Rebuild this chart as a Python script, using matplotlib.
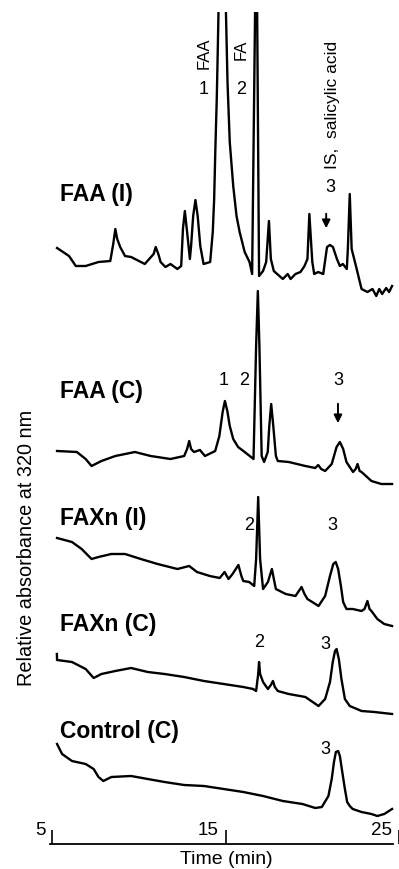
import matplotlib
matplotlib.use('Agg')
import matplotlib.pyplot as plt
from matplotlib.patches import Rectangle

plt.rcParams['font.family'] = ['Liberation Sans', 'DejaVu Sans']

# retention time (min) and relative absorbance (arbitrary units)
t_faa_i = [5.28, 5.97, 6.36, 6.93, 7.67, 8.35, 8.52, 8.64, 8.75, 8.92,
           9.20, 9.55, 10.34, 10.85, 10.97, 11.14, 11.25, 11.53, 11.82, 12.22,
           12.44, 12.54, 12.65, 12.78, 12.94, 13.01, 13.13, 13.26, 13.39, 13.54,
           13.73, 14.11, 14.26, 14.34, 14.41, 14.49, 14.55, 14.59, 14.65, 14.80,
           14.95, 15.02, 15.11, 15.24, 15.44, 15.63, 15.81, 16.10, 16.38, 16.53,
           16.70, 16.76, 16.82, 16.93, 17.16, 17.34, 17.50, 17.61, 17.78, 18.30,
           18.58, 18.75, 19.03, 19.32, 19.55, 19.72, 19.83, 20.00, 20.11, 20.34,
           20.63, 20.85, 21.02, 21.19, 21.42, 21.59, 21.76, 21.99, 22.05, 22.16,
           22.27, 22.56, 22.84, 23.18, 23.47, 23.69, 23.86, 24.03, 24.26, 24.43, 24.60]
s_faa_i = [21, 13, 3, 3, 7, 8, 25, 40, 30, 22,
           13, 12, 5, 15, 22, 14, 7, 2, 5, 0,
           3, 40, 58, 37, 10, 23, 53, 69, 53, 23,
           5, 7, 37, 70, 120, 170, 220, 257, 300, 330,
           300, 257, 187, 127, 83, 53, 37, 17, 7, -5,
           257, 320, 257, -7, -2, 7, 48, 10, -2, -10,
           -5, -10, -5, -3, 3, 10, 55, 7, -5, -3,
           -5, 22, 24, 22, 10, 3, 5, 0, 20, 75,
           20, 0, -20, -23, -20, -27, -20, -25, -19, -23, -17]

t_faa_c = [5.28, 6.42, 6.93, 7.27, 7.84, 8.64, 9.77, 10.68, 11.82, 12.61,
           12.78, 12.90, 13.01, 13.18, 13.52, 13.81, 14.40, 14.64, 14.83, 14.96,
           15.10, 15.24, 15.44, 15.72, 16.10, 16.61, 16.76, 16.86, 16.95, 17.08,
           17.22, 17.43, 17.52, 17.63, 17.75, 17.90, 18.01, 18.64, 19.60, 20.17,
           20.34, 20.51, 20.74, 21.12, 21.40, 21.59, 21.78, 21.97, 22.35, 22.50,
           22.61, 22.73, 22.84, 23.41, 23.98, 24.60]
s_faa_c = [8, 7, 0, -7, -2, 3, 7, 3, 0, 3,
           10, 18, 10, 7, 9, 3, 8, 23, 47, 58,
           48, 33, 20, 12, 7, 0, 113, 168, 113, 3,
           -3, 7, 33, 55, 33, 3, -2, -3, -7, -9,
           -6, -10, -12, -5, 12, 17, 10, -3, -13, -10,
           -5, -12, -13, -22, -25, -25]

t_faxn_i = [5.28, 6.14, 6.70, 7.27, 7.67, 8.41, 9.20, 10.11, 11.08, 12.22,
            12.90, 13.35, 14.09, 14.66, 14.94, 15.17, 15.40, 15.74, 15.91, 16.02,
            16.36, 16.65, 16.76, 16.88, 16.99, 17.16, 17.44, 17.67, 17.84, 17.90,
            18.47, 19.03, 19.38, 19.55, 19.72, 20.36, 20.74, 21.02, 21.21, 21.35,
            21.49, 21.65, 21.78, 21.97, 22.33, 22.84, 23.01, 23.18, 23.30, 23.41,
            23.75, 24.15, 24.60]
s_faxn_i = [41, 37, 30, 20, 22, 25, 25, 20, 15, 10,
            13, 7, 3, 1, 7, 0, 5, 14, 3, -2,
            -3, -7, 20, 82, 20, -10, -3, 10, -5, -10,
            -15, -17, -8, -15, -20, -27, -17, 3, 15, 17,
            10, -7, -23, -30, -30, -32, -30, -22, -30, -32,
            -40, -45, -47]

t_faxn_c = [5.27, 5.28, 6.14, 6.93, 7.39, 7.84, 8.64, 9.55, 10.51, 11.48,
            12.61, 13.75, 14.89, 16.02, 16.59, 16.76, 16.88, 16.93, 16.99, 17.16,
            17.44, 17.61, 17.73, 17.84, 18.01, 18.64, 19.60, 20.36, 20.74, 21.02,
            21.18, 21.31, 21.40, 21.53, 21.68, 21.88, 22.16, 22.84, 23.58, 24.60]
s_faxn_c = [35, 29, 27, 20, 11, 15, 18, 21, 17, 15,
            12, 8, 5, 2, 0, -2, 15, 27, 15, 7,
            0, 4, 8, 2, -2, -5, -8, -17, -10, 7,
            27, 38, 40, 30, 10, -10, -17, -22, -23, -25]

t_control = [5.28, 5.57, 6.14, 6.93, 7.39, 7.67, 7.95, 8.41, 9.55, 10.51,
             11.48, 12.61, 13.75, 14.89, 16.02, 17.16, 18.30, 19.43, 20.17, 20.55,
             20.93, 21.12, 21.25, 21.36, 21.49, 21.59, 21.72, 21.88, 22.01, 22.16,
             22.33, 22.84, 23.41, 23.75, 24.15, 24.60]
s_control = [55, 45, 38, 35, 30, 22, 18, 22, 23, 20,
             17, 14, 13, 10, 7, 3, -2, -5, -9, -8,
             3, 20, 37, 47, 48, 43, 28, 10, -3, -7,
             -10, -13, -15, -17, -15, -10]

traces = [t_faa_i, t_faa_c, t_faxn_i, t_faxn_c, t_control]
signals = [s_faa_i, s_faa_c, s_faxn_i, s_faxn_c, s_control]
names = ['FAA (I)', 'FAA (C)', 'FAXn (I)', 'FAXn (C)', 'Control (C)']
offsets = [575, 385, 265, 155, 45]
name_y = [650, 453, 327, 220, 113]

tick_vals = [5, 15, 25]
tick_labels = ['5', '15', '25']

fig = plt.figure(figsize=(3.99, 8.70), dpi=100)
ax = fig.add_axes([0, 0, 1, 1])
ax.set_xlim(1.99, 24.66)
ax.set_ylim(-25, 845)

# the two big peaks of FAA (I) run off the top of the plot
clip = Rectangle((1.99, -30), 23, 862, transform=ax.transData)
for t, s, off in zip(traces, signals, offsets):
    line, = ax.plot(t, [v + off for v in s], color='black', lw=1.7,
                    solid_joinstyle='round')
    line.set_clip_path(clip)

for name, y in zip(names, name_y):
    ax.text(5.45, y, name, fontsize=16.5, fontweight='bold', ha='left', va='center')

# peak labels
pk = dict(fontsize=13, ha='center', va='center')
ax.text(13.75, 755, '1', **pk)
ax.text(15.91, 755, '2', **pk)
ax.text(13.75, 792, 'FAA', rotation=90, fontsize=12, ha='center', va='center')
ax.text(15.91, 795, 'FA', rotation=90, fontsize=12, ha='center', va='center')
ax.text(21.14, 740, 'IS,  salicylic acid', rotation=90, fontsize=12.5, ha='center', va='center')
ax.text(21.02, 657, '3', **pk)
ax.annotate('', xy=(20.80, 613), xytext=(20.80, 633),
            arrowprops=dict(arrowstyle='-|>', color='black', lw=1.4, mutation_scale=12))

ax.text(14.89, 464, '1', **pk)
ax.text(16.08, 464, '2', **pk)
ax.text(21.48, 464, '3', **pk)
ax.annotate('', xy=(21.48, 418), xytext=(21.48, 443),
            arrowprops=dict(arrowstyle='-|>', color='black', lw=1.4, mutation_scale=12))

ax.text(16.36, 320, '2', **pk)
ax.text(21.14, 320, '3', **pk)
ax.text(16.93, 202, '2', **pk)
ax.text(20.74, 200, '3', **pk)
ax.text(20.74, 95, '3', **pk)

# time axis
for sp in ['top', 'right', 'left']:
    ax.spines[sp].set_visible(False)
ax.spines['bottom'].set_position(('data', 0))
ax.spines['bottom'].set_bounds(4.9, 24.66)
ax.spines['bottom'].set_linewidth(1.3)
ax.set_xticks(tick_vals)
ax.tick_params(axis='x', direction='in', length=10, width=1.2, labelbottom=False)
ax.set_yticks([])
for v, lab in zip(tick_vals, tick_labels):
    ax.text(v - 0.4, 6, lab, fontsize=13.5, ha='right', va='bottom')
ax.text(15.06, -15, 'Time (min)', fontsize=14, ha='center', va='center')
ax.text(3.52, 297, 'Relative absorbance at 320 nm', rotation=90, fontsize=14.3,
        ha='center', va='center')

plt.savefig('out.png', dpi=100)
